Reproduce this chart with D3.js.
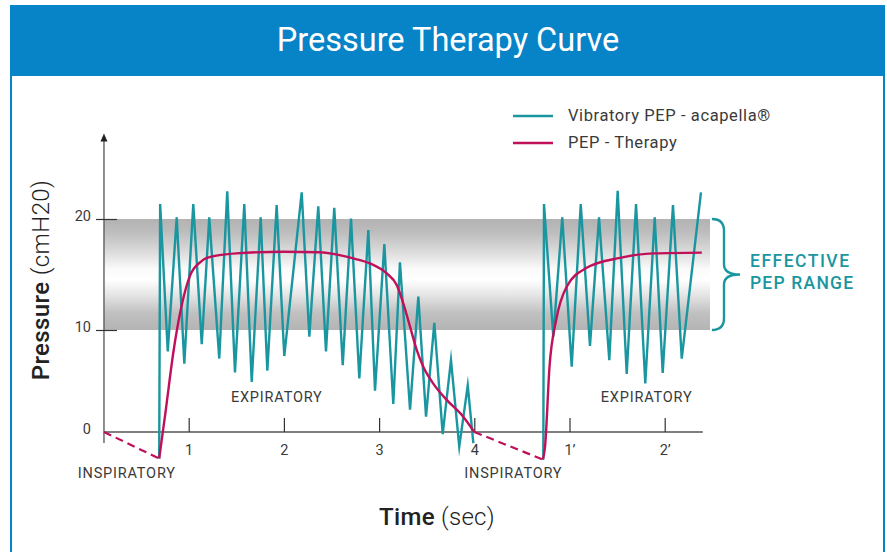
<!DOCTYPE html>
<html><head><meta charset="utf-8">
<script src="https://cdn.jsdelivr.net/npm/d3@7"></script>
<style>
html,body{margin:0;padding:0;background:#fff;}
svg{display:block;font-family:Roboto, "Open Sans", sans-serif;}
</style></head>
<body>
<svg id="c" width="887" height="552"></svg>
<script>
// ---- data ----
const title = "Pressure Therapy Curve";
const seriesNames = ["Vibratory PEP - acapella®", "PEP - Therapy"];
const yTicks = [0, 10, 20];
const xTicks = [1, 2, 3, 4, 5, 6];
const xTickLabels = ["1", "2", "3", "4", "1’", "2’"];
const phaseLabels = ["INSPIRATORY", "EXPIRATORY", "INSPIRATORY", "EXPIRATORY"];
const phaseTimes = [0.35, 1.925, 4.41, 5.81];
const effectiveRange = [10, 20];

// Vibratory PEP (acapella) – [time (s), pressure (cmH2O)]
const vibratory1 = [
  [0.69,-2.6],[0.70,21.35],[0.78,7.9],[0.874,20.15],[0.954,6.7],[1.048,21.35],[1.137,8.6],
  [1.216,20.15],[1.321,7.2],[1.405,22.5],[1.486,5.85],[1.584,21.35],[1.662,4.9],[1.756,20.15],
  [1.826,6.0],[1.924,21.25],[2.004,7.45],[2.187,22.4],[2.267,9.35],[2.361,21.15],[2.442,7.9],
  [2.529,21.0],[2.618,6.55],[2.705,20.05],[2.792,5.25],[2.887,19.0],[2.957,4.05],[3.055,17.75],
  [3.149,2.75],[3.219,16.1],[3.325,2.2],[3.412,13.0],[3.493,1.5],[3.58,10.65],[3.668,-0.2],
  [3.755,7.05],[3.842,-1.45],[3.931,4.55],[3.99,-1.1]
];
const vibratory2 = [
  [4.725,-2.7],[4.732,21.35],[4.83,9.35],[4.924,20.15],[5.023,6.4],[5.118,21.35],[5.215,8.45],
  [5.31,20.15],[5.418,7.05],[5.506,22.55],[5.601,5.7],[5.699,21.35],[5.796,4.75],[5.895,20.15],
  [5.979,5.8],[6.087,21.25],[6.179,7.2],[6.381,22.4]
];
// PEP therapy curve
const pep1 = [
  [0.69,-2.6],[0.76,2.2],[0.837,7.7],[0.926,12.2],[1.014,14.9],[1.119,16.1],[1.19,16.5],
  [1.5,16.9],[2.0,17.05],[2.378,17.0],[2.729,16.45],[2.904,16.0],[3.08,15.1],[3.185,14.05],
  [3.254,12.4],[3.325,10.3],[3.395,8.05],[3.464,6.4],[3.569,4.75],[3.71,3.15],[3.884,1.5],[4.0,0]
];
const pep2 = [
  [4.72,-2.7],[4.743,-1.45],[4.79,6.4],[4.86,10.9],[4.97,13.9],[5.18,15.6],[5.53,16.5],
  [5.877,16.9],[6.39,16.97]
];
const inspiratory1 = [[0.11,0],[0.69,-2.6]];
const inspiratory2 = [[4.0,0],[4.72,-2.7]];

// ---- drawing ----
const svg = d3.select("#c");
const teal = "#1a96a0", magenta = "#c0105a", blue = "#0783c8", txt = "#3a3a3a";

// frame
svg.append("rect").attr("x",0).attr("y",0).attr("width",887).attr("height",552).attr("fill","#fff");
svg.append("rect").attr("x",11).attr("y",6).attr("width",873).attr("height",560)
  .attr("fill","none").attr("stroke",blue).attr("stroke-width",2);
svg.append("rect").attr("x",10).attr("y",6).attr("width",875).attr("height",70).attr("fill",blue);
svg.append("text").attr("x",448).attr("y",51).attr("text-anchor","middle")
  .attr("fill","#fff").attr("font-size",32.5).attr("font-weight",400).text(title);

const x = d3.scaleLinear().domain([0, 6]).range([93.5, 664.7]);
const y = d3.scaleLinear().domain([0, 10, 20]).range([432, 330, 219]);
const xStart = 0.11, xEnd = 6.4, yTop = 27.7;

// gradient band
const defs = svg.append("defs");
const g = defs.append("linearGradient").attr("id","band").attr("x1",0).attr("y1",0).attr("x2",0).attr("y2",1);
[[0,"#b2b2b2"],[0.12,"#bdbdbd"],[0.3,"#dcdcdc"],[0.45,"#fafafa"],[0.55,"#ffffff"],[0.68,"#e6e6e6"],[0.85,"#c0c0c0"],[1,"#b4b4b4"]]
  .forEach(([o,c]) => g.append("stop").attr("offset",o).attr("stop-color",c));
svg.append("rect").attr("x", x(xStart)).attr("y", y(effectiveRange[1]))
  .attr("width", 710 - x(xStart)).attr("height", y(effectiveRange[0]) - y(effectiveRange[1]))
  .attr("fill","url(#band)");

// axes
const axG = svg.append("g").attr("stroke","#555").attr("fill","none");
axG.append("line").attr("x1",x(xStart)).attr("x2",x(xStart)).attr("y1",y(0)+11).attr("y2",y(yTop)+6).attr("stroke-width",1.3);
axG.append("line").attr("x1",x(xStart)).attr("x2",x(xEnd)).attr("y1",y(0)).attr("y2",y(0)).attr("stroke-width",1.3);
svg.append("path").attr("d",`M${x(xStart)-3.5},${y(yTop)+8} L${x(xStart)},${y(yTop)} L${x(xStart)+3.5},${y(yTop)+8} Z`).attr("fill","#222");

const yAx = svg.append("g").attr("transform",`translate(${x(xStart)},0)`)
  .call(d3.axisLeft(y).tickValues(yTicks).tickSize(8).tickPadding(6).tickFormat(d3.format("d")));
yAx.select(".domain").remove();
yAx.selectAll(".tick line").attr("x1",-8).attr("x2",13).attr("stroke","#333").attr("stroke-width",1.2);
yAx.selectAll(".tick").filter(d=>d===0).select("line").remove();
yAx.selectAll("text").attr("font-size",14.5).attr("fill",txt).attr("font-family","Roboto").attr("dx",1).attr("dy","0.1em");

const xAx = svg.append("g").attr("transform",`translate(0,${y(0)})`)
  .call(d3.axisBottom(x).tickValues(xTicks).tickSizeInner(-14).tickSizeOuter(0).tickPadding(13)
    .tickFormat((d,i)=>xTickLabels[i]));
xAx.select(".domain").remove();
xAx.selectAll(".tick line").attr("stroke","#333").attr("stroke-width",1.2);
xAx.selectAll("text").attr("font-size",14.5).attr("fill",txt).attr("font-family","Roboto");

// phase labels
const phaseY = [478, 402, 478, 402];
phaseLabels.forEach((l,i)=>{
  svg.append("text").attr("x",x(phaseTimes[i])).attr("y",phaseY[i]).attr("text-anchor","middle")
    .attr("font-size",14.5).attr("letter-spacing",0.8).attr("fill",txt).text(l);
});

// lines
const line = d3.line().x(d=>x(d[0])).y(d=>y(d[1]));
const smooth = d3.line().x(d=>x(d[0])).y(d=>y(d[1])).curve(d3.curveMonotoneX);
[vibratory1, vibratory2].forEach(s=>svg.append("path").attr("d",line(s)).attr("fill","none")
  .attr("stroke",teal).attr("stroke-width",2.4).attr("stroke-linejoin","miter").attr("stroke-miterlimit",10));
[pep1, pep2].forEach(s=>svg.append("path").attr("d",smooth(s)).attr("fill","none")
  .attr("stroke",magenta).attr("stroke-width",2.4));
[inspiratory1, inspiratory2].forEach(s=>svg.append("path").attr("d",line(s)).attr("fill","none")
  .attr("stroke",magenta).attr("stroke-width",2.2).attr("stroke-dasharray","8,5"));

// brace
const bt = y(effectiveRange[1]), bb = y(effectiveRange[0]), bm = (bt+bb)/2;
svg.append("path").attr("d",
  `M712,${bt} Q724,${bt} 724,${bt+12} L724,${bm-10} Q724,${bm} 740,${bm} Q724,${bm} 724,${bm+10} L724,${bb-12} Q724,${bb} 712,${bb}`)
  .attr("fill","none").attr("stroke",teal).attr("stroke-width",2.4);
svg.append("text").attr("x",750).attr("y",267).attr("font-size",17.5).attr("letter-spacing",1.5).attr("font-weight",500).attr("fill",teal).text("EFFECTIVE");
svg.append("text").attr("x",750).attr("y",289).attr("font-size",17.5).attr("letter-spacing",1.2).attr("font-weight",500).attr("fill",teal).text("PEP RANGE");

// legend
[[teal,116,121,seriesNames[0]],[magenta,143,148,seriesNames[1]]].forEach(([c,ly,ty,t])=>{
  svg.append("line").attr("x1",513).attr("x2",553).attr("y1",ly).attr("y2",ly).attr("stroke",c).attr("stroke-width",2.4);
  svg.append("text").attr("x",568).attr("y",ty).attr("font-size",16.5).attr("letter-spacing",0.6).attr("fill",txt).text(t);
});

// axis titles
const yt = svg.append("text").attr("transform","translate(49,280) rotate(-90)").attr("text-anchor","middle")
  .attr("font-size",24).attr("letter-spacing",0.4).attr("fill","#222");
yt.append("tspan").attr("font-weight",500).text("Pressure");
yt.append("tspan").attr("font-weight",300).text(" (cmH20)");
const xt = svg.append("text").attr("x",437).attr("y",525).attr("text-anchor","middle")
  .attr("font-size",24).attr("letter-spacing",0.3).attr("fill","#222");
xt.append("tspan").attr("font-weight",500).text("Time");
xt.append("tspan").attr("font-weight",300).text(" (sec)");
</script>
</body></html>
